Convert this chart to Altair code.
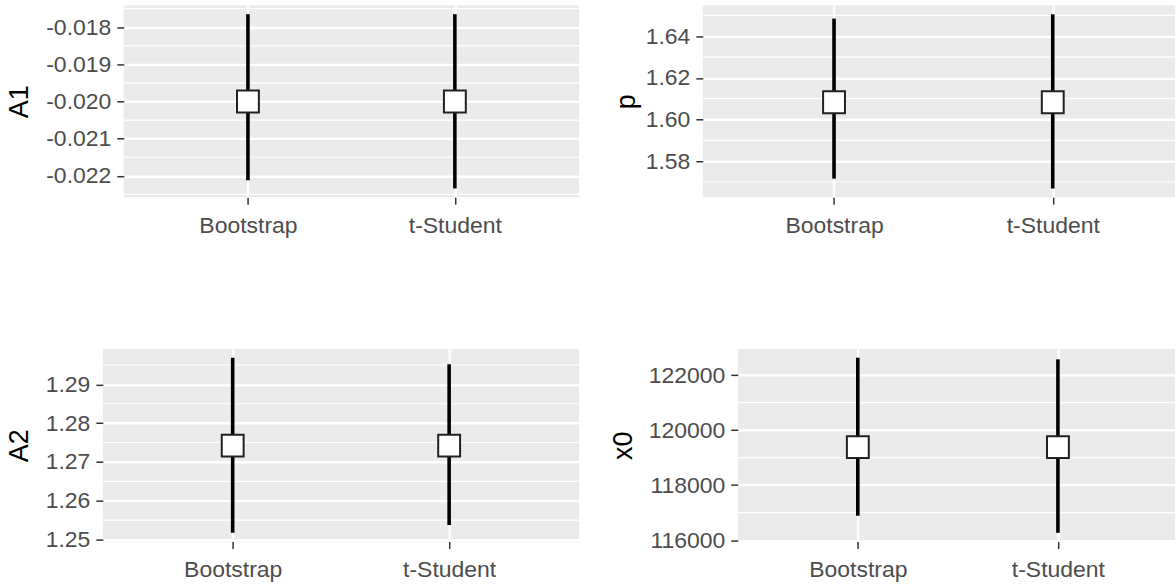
import altair as alt
import pandas as pd

# Confidence intervals for the four fitted parameters, by interval method
methods = ["Bootstrap", "t-Student"]

a1_est = [-0.02000, -0.02000]
a1_lower = [-0.02212, -0.02234]
a1_upper = [-0.01765, -0.01765]

p_est = [1.6083, 1.6083]
p_lower = [1.5716, 1.5669]
p_upper = [1.6485, 1.6506]

a2_est = [1.2742, 1.2742]
a2_lower = [1.2517, 1.2537]
a2_upper = [1.2969, 1.2952]

x0_est = [119380, 119380]
x0_lower = [116889, 116268]
x0_upper = [122633, 122572]

# Axis breaks (major) and the minor grid in between
a1_ticks = [-0.022, -0.021, -0.020, -0.019, -0.018]
a1_minor = [-0.0225, -0.0215, -0.0205, -0.0195, -0.0185, -0.0175]
p_ticks = [1.58, 1.60, 1.62, 1.64]
p_minor = [1.57, 1.59, 1.61, 1.63, 1.65]
a2_ticks = [1.25, 1.26, 1.27, 1.28, 1.29]
a2_minor = [1.255, 1.265, 1.275, 1.285, 1.295]
x0_ticks = [116000, 118000, 120000, 122000]
x0_minor = [117000, 119000, 121000]

FONT = "Liberation Sans"
PANEL_BG = "#EBEBEB"
TEXT_GREY = "#4D4D4D"
TICK_GREY = "#333333"


def panel(title, est, lower, upper, ticks, minor, label_expr,
          width, height, full_width, title_x):
    df = pd.DataFrame({"method": methods, "est": est,
                       "lower": lower, "upper": upper})
    # ggplot-style 5% expansion of the continuous range
    lo = min(lower + est)
    hi = max(upper + est)
    pad = 0.05 * (hi - lo)
    yscale = alt.Scale(domain=[lo - pad, hi + pad], zero=False, nice=False)

    # discrete axis: 0.6 of a step on each side; the panel may be cut on the right
    step = full_width / 2.2
    xscale = alt.Scale(type="point", domain=methods,
                       padding=(width / step - 1) / 2,
                       align=0.6 * step / (width - step))

    yaxis = alt.Axis(
        title=title, values=ticks, labelExpr=label_expr,
        grid=True, gridColor="white", gridWidth=2.4,
        domain=False, tickColor=TICK_GREY, tickSize=7, tickWidth=1.5,
        labelPadding=6, labelFont=FONT, labelFontSize=23, labelColor=TEXT_GREY,
        titleFont=FONT, titleFontSize=27, titleFontWeight="normal",
        titleColor="black", titleAngle=270, titleBaseline="middle",
        titleAlign="center", titleX=title_x, titleY=height / 2,
    )
    xaxis = alt.Axis(
        title=None, grid=True, gridColor="white", gridWidth=2.4,
        domain=False, tickColor=TICK_GREY, tickSize=7, tickWidth=1.5,
        labelPadding=10, labelAngle=0, labelFont=FONT, labelFontSize=23,
        labelColor=TEXT_GREY,
    )

    minor_rules = alt.Chart(pd.DataFrame({"v": minor})).mark_rule(
        color="white", strokeWidth=1.2
    ).encode(y=alt.Y("v:Q", scale=yscale, axis=yaxis))

    bars = alt.Chart(df).mark_rule(color="black", strokeWidth=3.6).encode(
        x=alt.X("method:N", scale=xscale, axis=xaxis, sort=methods),
        y=alt.Y("lower:Q", scale=yscale, axis=yaxis),
        y2="upper:Q",
    )

    points = alt.Chart(df).mark_point(
        shape="square", filled=True, fill="white", stroke="#222222",
        strokeWidth=2, size=480, opacity=1,
    ).encode(
        x=alt.X("method:N", scale=xscale, axis=xaxis, sort=methods),
        y=alt.Y("est:Q", scale=yscale, axis=yaxis),
    )

    return alt.layer(minor_rules, bars, points).properties(width=width, height=height)


neg3 = "(datum.value < 0 ? '-' : '') + format(abs(datum.value), '.3f')"
dec2 = "format(datum.value, '.2f')"
integer = "format(datum.value, 'd')"

p1 = panel("A1", a1_est, a1_lower, a1_upper, a1_ticks, a1_minor, neg3,
           456, 192, 456, -104)
p2 = panel("p", p_est, p_lower, p_upper, p_ticks, p_minor, dec2,
           473, 192, 482, -76)
p3 = panel("A2", a2_est, a2_lower, a2_upper, a2_ticks, a2_minor, dec2,
           477, 193, 477, -83)
p4 = panel("x0", x0_est, x0_lower, x0_upper, x0_ticks, x0_minor, integer,
           438, 193, 441, -114)

# empty leading cell so each row keeps its own left offset
spacer = alt.Chart(pd.DataFrame({"v": [0]})).mark_point(
    size=0, opacity=0, strokeWidth=0
).encode(
    x=alt.X("v:Q", axis=None), y=alt.Y("v:Q", axis=None)
).properties(width=1, height=1,
             view=alt.ViewBackground(fill="transparent", strokeWidth=0))

row1 = alt.hconcat(spacer, alt.hconcat(p1, p2, spacing=33), spacing=5)
row2 = alt.hconcat(spacer, alt.hconcat(p3, p4, spacing=30), spacing=5)

chart = alt.vconcat(row1, row2, spacing=112).properties(
    padding={"left": 0, "top": 5, "right": 0, "bottom": 0},
    background="white",
).configure_view(fill=PANEL_BG, strokeWidth=0)

chart.save("out.html", embed_options={"renderer": "svg", "actions": False})
